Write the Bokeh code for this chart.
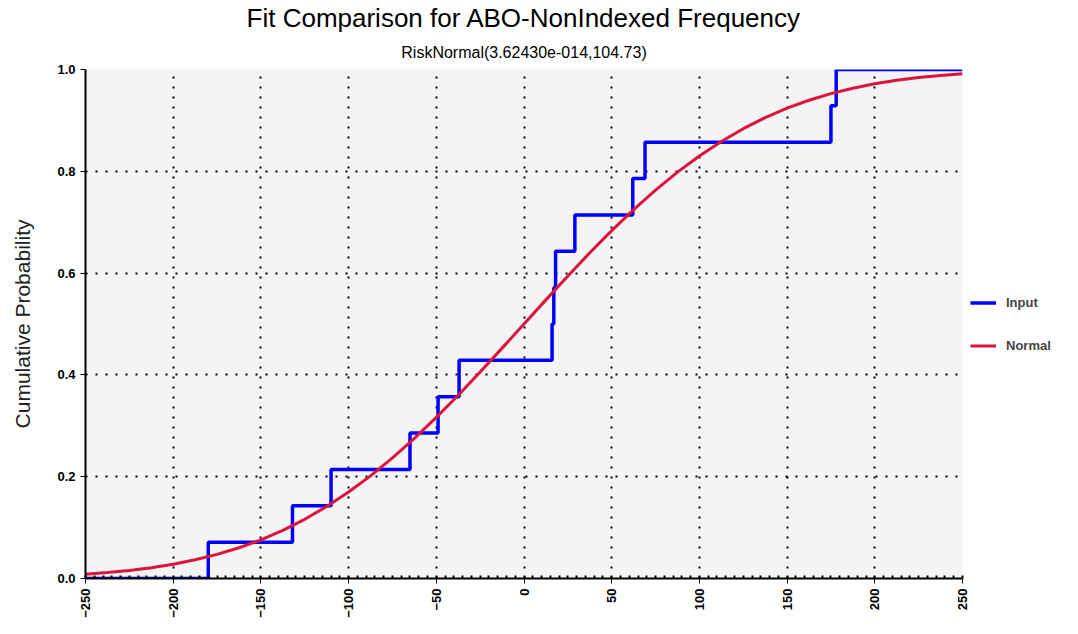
import math
from bokeh.plotting import figure
from bokeh.models import (FixedTicker, NumeralTickFormatter, Title, Legend, LegendItem, Range1d)
from bokeh.embed import file_html
from bokeh.resources import INLINE

# Empirical CDF of the input (14 observations)
input_x = [-250, -180, -132, -110, -65, -49, -37, 16, 17, 18, 29, 62, 69, 175, 178, 250]
input_y = [0.0, 0.0714, 0.1429, 0.2143, 0.2857, 0.3571, 0.4286, 0.5, 0.5714, 0.6429,
           0.7143, 0.7857, 0.8571, 0.9286, 1.0, 1.0]

# Fitted normal CDF values
normal_x = [-250, -237.5, -225, -212.5, -200, -187.5, -175, -162.5, -150, -137.5, -125,
            -112.5, -100, -87.5, -75, -62.5, -50, -37.5, -25, -12.5, 0, 12.5, 25, 37.5,
            50, 62.5, 75, 87.5, 100, 112.5, 125, 137.5, 150, 162.5, 175, 187.5, 200,
            212.5, 225, 237.5, 250]
normal_y = [0.0085, 0.0117, 0.0158, 0.0212, 0.0281, 0.0367, 0.0474, 0.0604, 0.0760, 0.0946,
            0.1163, 0.1414, 0.1698, 0.2017, 0.2370, 0.2753, 0.3165, 0.3601, 0.4057, 0.4526,
            0.5, 0.5474, 0.5943, 0.6399, 0.6835, 0.7247, 0.7630, 0.7983, 0.8302, 0.8586,
            0.8837, 0.9054, 0.9240, 0.9396, 0.9526, 0.9633, 0.9719, 0.9788, 0.9842, 0.9883,
            0.9915]

x_ticks = [-250, -200, -150, -100, -50, 0, 50, 100, 150, 200, 250]
y_ticks = [0.0, 0.2, 0.4, 0.6, 0.8, 1.0]
x_minor = list(range(-250, 251, 5))

FONT = "Liberation Sans"

p = figure(frame_width=877, frame_height=509, output_backend="svg", toolbar_location=None,
           x_range=Range1d(-250, 250), y_range=Range1d(0, 1),
           min_border_left=85, min_border_right=0, min_border_top=60, min_border_bottom=49,
           background_fill_color="#f4f4f4", border_fill_color="white", outline_line_color=None)

sub = Title(text="RiskNormal(3.62430e-014,104.73)", align="center", text_color="black",
            text_font=FONT, text_font_size="16px", text_font_style="normal", standoff=18)
main = Title(text="Fit Comparison for ABO-NonIndexed Frequency", align="center", text_color="black",
             text_font=FONT, text_font_size="26px", text_font_style="normal", standoff=0)
p.add_layout(sub, "above")
p.add_layout(main, "above")

p.xaxis.ticker = FixedTicker(ticks=x_ticks, minor_ticks=x_minor)
p.yaxis.ticker = FixedTicker(ticks=y_ticks, minor_ticks=[])
p.yaxis.formatter = NumeralTickFormatter(format="0.0")
p.xaxis.major_label_orientation = math.pi / 2

for ax in (p.xaxis[0], p.yaxis[0]):
    ax.axis_line_color = "black"
    ax.axis_line_width = 2
    ax.major_tick_line_color = "black"
    ax.major_tick_in = 0
    ax.major_tick_out = 5
    ax.major_label_text_font = FONT
    ax.major_label_text_font_size = "13px"
    ax.major_label_text_font_style = "bold"
    ax.major_label_text_color = "black"
p.xaxis.minor_tick_in = 3
p.xaxis.minor_tick_out = 0
p.xaxis.minor_tick_line_color = "black"
p.xaxis.minor_tick_line_width = 2

p.yaxis.axis_label = "Cumulative Probability"
p.yaxis.axis_label_text_font = FONT
p.yaxis.axis_label_text_font_size = "21px"
p.yaxis.axis_label_text_font_style = "normal"
p.yaxis.axis_label_text_color = "#222222"
p.yaxis.axis_label_standoff = 20

for g in (p.xgrid[0], p.ygrid[0]):
    g.grid_line_color = "black"
    g.grid_line_dash = "2 8"
    g.grid_line_width = 2

r_in = p.step(input_x, input_y, mode="after", line_color="#0000ff", line_width=3.5)
r_norm = p.line(normal_x, normal_y, line_color="#dc143c", line_width=3)

legend = Legend(items=[LegendItem(label="Input", renderers=[r_in]),
                       LegendItem(label="Normal", renderers=[r_norm])],
                location="center_left", border_line_color=None, background_fill_alpha=0,
                label_text_font=FONT, label_text_font_size="13px", label_text_font_style="bold",
                glyph_width=26, spacing=23, label_standoff=10, padding=5, margin=8)
p.add_layout(legend, "right")

open("out.html", "w").write(file_html(p, INLINE))
